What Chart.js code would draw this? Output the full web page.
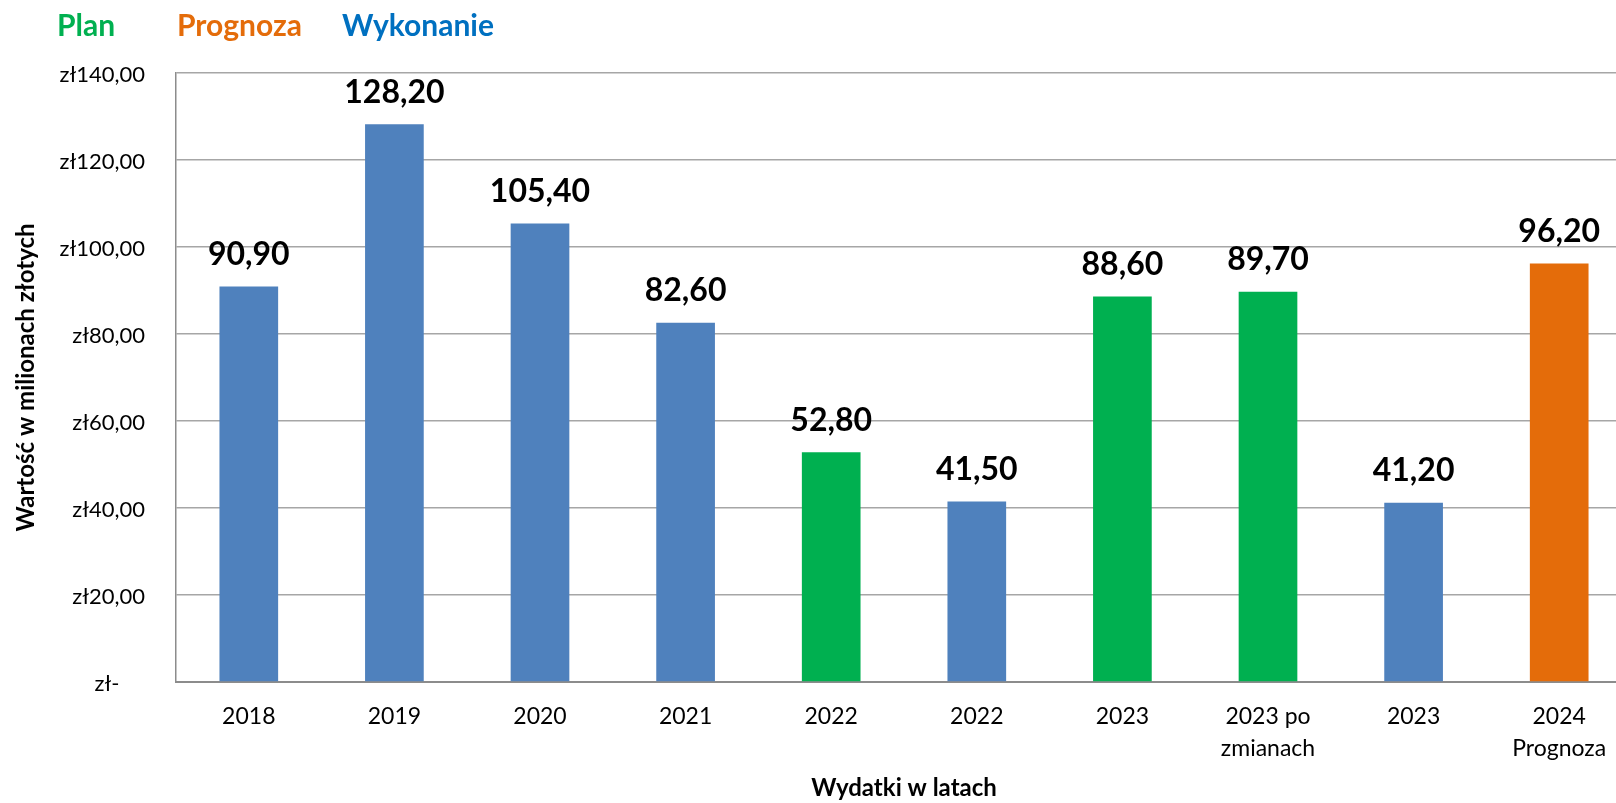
<!DOCTYPE html>
<html lang="pl">
<head>
    <meta charset="UTF-8">
    <title>Wydatki w latach</title>
    <script src="https://cdn.jsdelivr.net/npm/chart.js"></script>
    <style>
        html, body {
            margin: 0;
            padding: 0;
            background: #fff;
            overflow: hidden;
            width: 1616px;
            height: 803px;
        }
        .wrap {
            position: relative;
            width: 1632px;
            height: 803px;
        }
        .legenda span {
            position: absolute;
            top: 7px;
            font-family: Lato, sans-serif;
            font-weight: bold;
            font-size: 30px;
            line-height: 34px;
        }
    </style>
</head>
<body>

<div class="wrap">
    <canvas id="wykres" width="1632" height="803"></canvas>
    <div class="legenda">
        <span style="left:57px;color:#00B050">Plan</span>
        <span style="left:177px;color:#E46C0A">Prognoza</span>
        <span style="left:342px;color:#0070C0">Wykonanie</span>
    </div>
</div>

<script>
    // dane
    const kategorie = ['2018', '2019', '2020', '2021', '2022', '2022', '2023', ['2023 po', 'zmianach'], '2023', ['2024', 'Prognoza']];
    const wartosci = [90.9, 128.2, 105.4, 82.6, 52.8, 41.5, 88.6, 89.7, 41.2, 96.2];
    const rodzaj = ['W', 'W', 'W', 'W', 'P', 'W', 'P', 'P', 'W', 'F'];
    const yTicks = [0, 20, 40, 60, 80, 100, 120, 140];

    const kolory = { W: '#4F81BD', P: '#00B050', F: '#E46C0A' };

    function zl(v) {
        if (v === 0) return 'zł-\u2007\u2007';
        return 'zł' + v.toFixed(2).replace('.', ',');
    }

    // etykiety wartosci nad slupkami
    const etykiety = {
        id: 'etykiety',
        afterDatasetsDraw(chart) {
            const ctx = chart.ctx;
            const meta = chart.getDatasetMeta(0);
            ctx.save();
            ctx.font = 'bold 32px Lato, sans-serif';
            ctx.fillStyle = '#000';
            ctx.textAlign = 'center';
            ctx.textBaseline = 'middle';
            meta.data.forEach((bar, i) => {
                ctx.fillText(wartosci[i].toFixed(2).replace('.', ','), bar.x, bar.y - 32);
            });
            ctx.restore();
        }
    };

    const ctx = document.getElementById('wykres').getContext('2d');
    new Chart(ctx, {
        type: 'bar',
        data: {
            labels: kategorie,
            datasets: [{
                data: wartosci,
                backgroundColor: rodzaj.map(r => kolory[r]),
                categoryPercentage: 1,
                barPercentage: 0.403
            }]
        },
        options: {
            responsive: false,
            animation: false,
            layout: { padding: { top: 73, left: 0, right: 0, bottom: 0 } },
            plugins: {
                legend: { display: false },
                tooltip: { enabled: false }
            },
            scales: {
                x: {
                    grid: { display: false, drawTicks: false },
                    border: { display: true, color: '#8c8c8c', width: 2 },
                    ticks: {
                        color: '#000',
                        font: { family: 'Lato, sans-serif', size: 23, lineHeight: 1.39 },
                        padding: 19,
                        maxRotation: 0,
                        autoSkip: false
                    },
                    title: {
                        display: true,
                        text: 'Wydatki w latach',
                        color: '#000',
                        font: { family: 'Lato, sans-serif', size: 24, weight: 'bold', lineHeight: 1.2 },
                        padding: { top: 0, bottom: 0 }
                    },
                    afterFit(scale) { scale.height = 121; }
                },
                y: {
                    min: 0,
                    max: 140,
                    afterBuildTicks(scale) { scale.ticks = yTicks.map(v => ({ value: v })); },
                    grid: { color: '#a6a6a6', lineWidth: 1.5, drawTicks: false },
                    border: { display: true, color: '#8c8c8c', width: 1.5 },
                    ticks: {
                        color: '#000',
                        font: { family: 'Lato, sans-serif', size: 22 },
                        padding: 31,
                        labelOffset: 1.5,
                        callback: v => zl(v)
                    },
                    title: {
                        display: true,
                        text: 'Wartość w milionach złotych',
                        color: '#000',
                        font: { family: 'Lato, sans-serif', size: 24, weight: 'bold', lineHeight: 1.2 },
                        padding: { top: 12, bottom: 0 }
                    },
                    afterFit(scale) { scale.width = 176; }
                }
            }
        },
        plugins: [etykiety]
    });
</script>

</body>
</html>
